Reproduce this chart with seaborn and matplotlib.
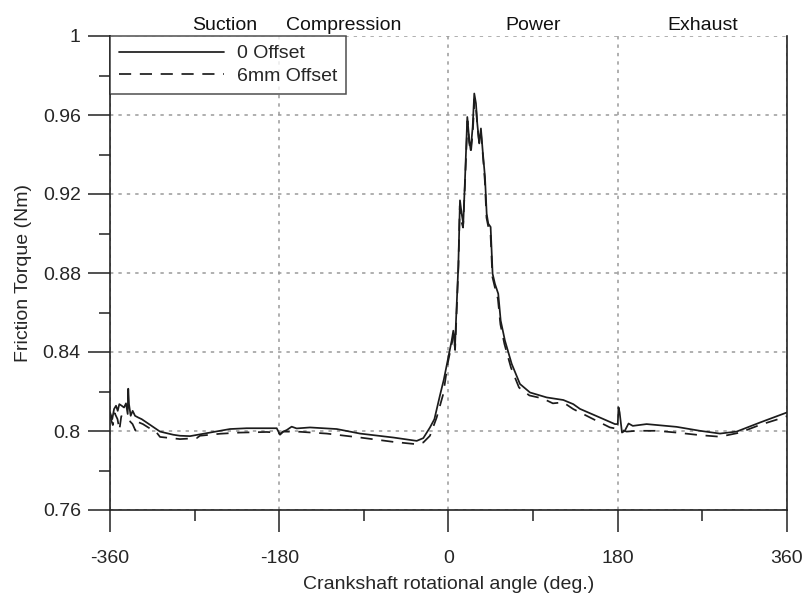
import matplotlib
matplotlib.use("Agg")
import matplotlib.pyplot as plt
import numpy as np
import pandas as pd
import seaborn as sns
from matplotlib.ticker import MultipleLocator

# ---------------- data ----------------
angle_0 = [-360, -357.6, -355.7, -353.6, -351.8, -350.1, -347.6, -345.1, -343.0, -341.2,
           -340.6, -339.8, -338.0, -335.9, -333.4, -329.9, -326.3, -321.0, -306.8, -292.7,
           -285.6, -274.9, -257.2, -243.0, -232.4, -214.6, -200.5, -182.7, -179.2, -175.7,
           -172.0, -166.8, -161.5, -147.3, -118.9, -94.1, -58.7, -33.8, -26.8, -19.7,
           -15.0, -9.1, -5.0, -0.2, 3.4, 5.1, 6.9, 8.0, 10.4, 12.2,
           14.0, 15.7, 17.5, 20.0, 22.1, 23.6, 25.7, 27.4, 29.2, 30.6,
           32.7, 34.5, 36.3, 38.8, 40.6, 42.3, 44.8, 46.9, 49.4, 52.9,
           55.5, 60.0, 67.2, 76.0, 86.7, 104.4, 122.1, 132.7, 139.8, 161.1,
           177.0, 180.0, 180.8, 182.0, 184.5, 187.5, 191.5, 196.0, 210.7, 242.6,
           267.4, 288.7, 306.4, 331.3, 360]
torque_0 = [0.8095, 0.8060, 0.8111, 0.8128, 0.8102, 0.8136, 0.8128, 0.8119, 0.8140, 0.8086,
            0.8214, 0.8136, 0.8077, 0.8102, 0.8077, 0.8068, 0.8060, 0.8043, 0.7997, 0.7981,
            0.7976, 0.7974, 0.7989, 0.8001, 0.8010, 0.8014, 0.8014, 0.8014, 0.7981, 0.7997,
            0.8005, 0.8022, 0.8013, 0.8018, 0.8010, 0.7987, 0.7967, 0.7950, 0.7964, 0.8018,
            0.8060, 0.8180, 0.8260, 0.8373, 0.8458, 0.8508, 0.8424, 0.8559, 0.8830, 0.9168,
            0.9100, 0.9050, 0.9269, 0.9590, 0.9472, 0.9422, 0.9540, 0.9709, 0.9659, 0.9557,
            0.9456, 0.9532, 0.9422, 0.9286, 0.9100, 0.9050, 0.9033, 0.8796, 0.8745, 0.8695,
            0.8559, 0.8458, 0.8340, 0.8238, 0.8195, 0.8170, 0.8157, 0.8136, 0.8112, 0.8068,
            0.8035, 0.8035, 0.8120, 0.8094, 0.7992, 0.8001, 0.8038, 0.8026, 0.8035, 0.8021,
            0.8001, 0.7987, 0.7997, 0.8043, 0.8094]

angle_6 = [-360, -357.0, -355.0, -352.0, -350.0, -348.0, -345.0, -342.0, -339.0, -336.0,
           -333.0, -330.0, -325.0, -320.0, -310.4, -306.8, -285.6, -267.8, -264.3, -243.0,
           -221.8, -193.4, -181.0, -179.5, -176.0, -158.0, -129.6, -94.1, -58.7, -33.8,
           -26.8, -19.7, -12.6, -5.6, -0.5, 3.4, 5.5, 7.0, 8.3, 10.6,
           12.0, 13.8, 15.5, 17.6, 20.2, 22.0, 23.8, 25.9, 27.6, 29.3,
           30.8, 32.6, 34.5, 36.5, 38.6, 40.4, 42.5, 44.6, 46.7, 49.2,
           52.5, 55.2, 59.5, 66.5, 75.0, 86.0, 100.0, 111.0, 122.0, 132.7,
           154.0, 171.7, 180.6, 189.5, 200.1, 221.4, 242.6, 267.4, 288.7, 310.0,
           331.3, 356.1, 360]
torque_6 = [0.8075, 0.8030, 0.8090, 0.8060, 0.8005, 0.8075, 0.8070, 0.8060, 0.8050, 0.8035,
            0.8003, 0.8045, 0.8035, 0.8020, 0.7992, 0.7970, 0.7959, 0.7964, 0.7976, 0.7986,
            0.7992, 0.7995, 0.7992, 0.7985, 0.7997, 0.7996, 0.7987, 0.7967, 0.7945, 0.7933,
            0.7942, 0.7976, 0.8068, 0.8187, 0.8350, 0.8440, 0.8490, 0.8410, 0.8560, 0.8840,
            0.9140, 0.9060, 0.9030, 0.9260, 0.9570, 0.9460, 0.9410, 0.9520, 0.9680, 0.9630,
            0.9540, 0.9460, 0.9510, 0.9400, 0.9270, 0.9080, 0.9030, 0.9010, 0.8780, 0.8730,
            0.8670, 0.8540, 0.8440, 0.8320, 0.8220, 0.8180, 0.8165, 0.8140, 0.8145, 0.8111,
            0.8060, 0.8018, 0.8010, 0.7997, 0.8001, 0.8001, 0.7992, 0.7979, 0.7971, 0.7992,
            0.8031, 0.8068, 0.8075]

series_names = ["0 Offset", "6mm Offset"]
stroke_labels = ["Suction", "Compression", "Power", "Exhaust"]
stroke_pos = [-238, -111, 90, 270]
x_ticks = [-360, -180, 0, 180, 360]
y_ticks = [0.76, 0.80, 0.84, 0.88, 0.92, 0.96, 1.00]
y_tick_labels = ["0.76", "0.8", "0.84", "0.88", "0.92", "0.96", "1"]

df = pd.concat([
    pd.DataFrame({"angle": angle_0, "torque": torque_0, "series": series_names[0]}),
    pd.DataFrame({"angle": angle_6, "torque": torque_6, "series": series_names[1]}),
], ignore_index=True)

# ---------------- style ----------------
sns.set_style("ticks")
plt.rcParams['font.family'] = ['Liberation Sans', 'DejaVu Sans']

fig = plt.figure(figsize=(8.04, 5.97), dpi=100)
ax = fig.add_axes([110 / 804, 1 - 510 / 597, 677 / 804, 474 / 597])

line_color = "#1c1c1c"
sns.lineplot(data=df, x="angle", y="torque", style="series",
             dashes={series_names[0]: "", series_names[1]: (7, 5)},
             color=line_color, lw=1.25, estimator=None, sort=False,
             ax=ax, legend=True)

ax.set_xlim(-360, 360)
ax.set_ylim(0.76, 1.0)
ax.set_xticks(x_ticks)
ax.set_xticklabels([str(t) for t in x_ticks])
ax.set_yticks(y_ticks)
ax.set_yticklabels(y_tick_labels)
ax.xaxis.set_minor_locator(MultipleLocator(90))
ax.yaxis.set_minor_locator(MultipleLocator(0.02))

ax.grid(True, which="major", color="#9a9a9a", linestyle=(0, (2.2, 3.3)), lw=1.1)
ax.set_axisbelow(True)

for side in ["left", "right", "bottom"]:
    ax.spines[side].set_visible(True)
    ax.spines[side].set_color("#222222")
    ax.spines[side].set_linewidth(1.2)
ax.spines["top"].set_visible(False)

ax.tick_params(which="major", direction="out", length=16, width=1.1,
               color="#222222", labelsize=14, pad=5)
ax.tick_params(axis="x", which="major", pad=13)
ax.tick_params(which="minor", direction="out", length=8, width=1.1, color="#222222")
ax.tick_params(right=False, top=False, which="both")

ax.set_xlabel("Crankshaft rotational angle (deg.)", fontsize=14, labelpad=6)
ax.set_ylabel("Friction Torque (Nm)", fontsize=14, labelpad=8)

for lab, pos in zip(stroke_labels, stroke_pos):
    ax.text(pos, 1.004, lab, transform=ax.get_xaxis_transform(),
            ha="center", va="bottom", fontsize=14, color="#111111")

handles, labels = ax.get_legend_handles_labels()
leg = ax.legend(handles, labels, loc="upper left", borderaxespad=0,
                frameon=True, fancybox=False, edgecolor="#222222",
                fontsize=14, handlelength=5.4, handletextpad=0.7,
                borderpad=0.45, labelspacing=0.25)
leg.get_frame().set_linewidth(1.1)
for h in leg.get_lines():
    h.set_linewidth(1.25)
    h.set_color(line_color)

fig.savefig("out.png", dpi=100)
